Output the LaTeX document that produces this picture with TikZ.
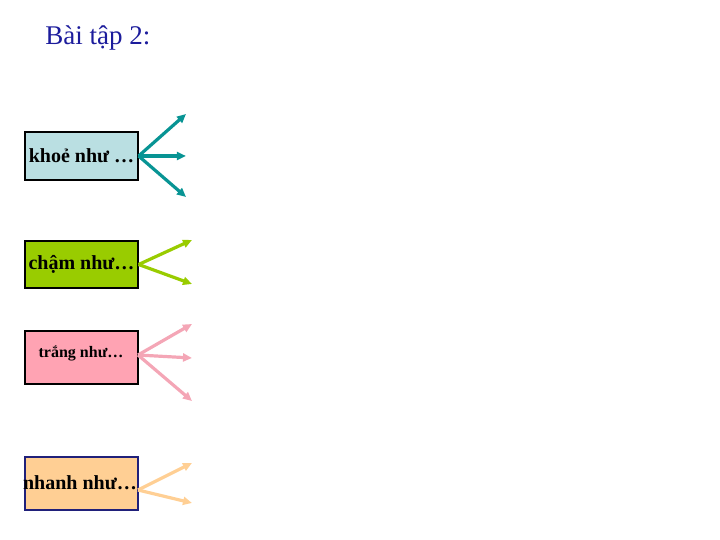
\documentclass[tikz,border=0pt]{standalone}
\usepackage{fontspec}
\setmainfont{Liberation Serif}
\usetikzlibrary{arrows.meta}
\definecolor{titleblue}{HTML}{1C1C9C}
\definecolor{tealA}{HTML}{089494}
\definecolor{fillA}{HTML}{BADFE2}
\definecolor{greenB}{HTML}{99CC00}
\definecolor{pinkC}{HTML}{F4A6B6}
\definecolor{fillC}{HTML}{FFA3B3}
\definecolor{orangeD}{HTML}{FFCF94}
\definecolor{navyD}{HTML}{20207A}
\tikzset{
  box/.style={draw=black, line width=0.6pt, minimum width=56.5pt, minimum height=24pt, inner sep=0pt, font=\bfseries\fontsize{10}{12}\selectfont},
  arr/.style={line width=1.6pt, -{Triangle[length=4.5pt,width=4pt]}},
}
\begin{document}
\begin{tikzpicture}[x=0.5pt,y=-0.5pt]
\useasboundingbox (0,0) rectangle (720,540);
\node[anchor=base west, text=titleblue, font=\fontsize{13.5}{16}\selectfont, inner sep=0pt] (title) at (45,45) {Bài tập 2:};

% box 1
\node[box, fill=fillA, minimum height=24pt] (b1) at (81.5,156) {khoẻ như …};
\coordinate (a1) at (186,114);
\coordinate (a2) at (186,156);
\coordinate (a3) at (186,197);
\draw[arr, tealA] (b1.east) -- (a1);
\draw[arr, tealA] (b1.east) -- (a2);
\draw[arr, tealA] (b1.east) -- (a3);

% box 2
\node[box, fill=greenB, minimum height=23.5pt] (b2) at (81.5,264.5) {chậm như…};
\coordinate (c1) at (192,240);
\coordinate (c2) at (192,284);
\draw[arr, greenB] (b2.east) -- (c1);
\draw[arr, greenB] (b2.east) -- (c2);

% box 3
\node[box, fill=fillC, minimum height=26.5pt, font=\bfseries\fontsize{8}{10}\selectfont] (b3) at (81.5,357.5) {};
\node[font=\bfseries\fontsize{8}{10}\selectfont, inner sep=0pt] (t3) at (81,353) {trắng như…};
\coordinate (d0) at (138,355);
\coordinate (d1) at (192,324);
\coordinate (d2) at (192,358);
\coordinate (d3) at (192,401);
\draw[arr, pinkC] (d0) -- (d1);
\draw[arr, pinkC] (d0) -- (d2);
\draw[arr, pinkC] (d0) -- (d3);

% box 4
\node[box, draw=navyD, fill=orangeD, minimum height=26.5pt] (b4) at (81.5,483.5) {};
\node[font=\bfseries\fontsize{10}{12}\selectfont, inner sep=0pt] (t4) at (80,483) {nhanh như…};
\coordinate (e0) at (138,490);
\coordinate (e1) at (192,463);
\coordinate (e2) at (192,503);
\draw[arr, orangeD] (e0) -- (e1);
\draw[arr, orangeD] (e0) -- (e2);
\end{tikzpicture}
\end{document}
